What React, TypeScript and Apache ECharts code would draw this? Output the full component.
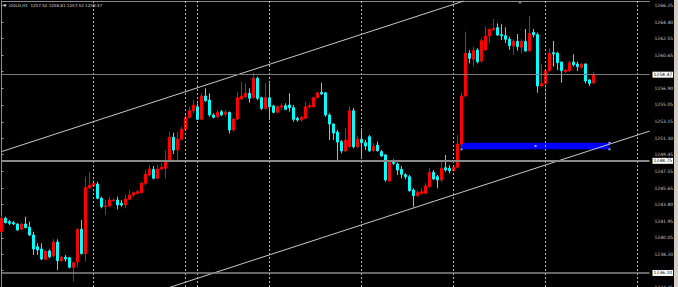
import React, { useEffect, useRef } from "react";
import * as echarts from "echarts";

// ---- DATA ----
const opens = [
  1240.75, 1242.27, 1241.88, 1241.77, 1241.62, 1241.03, 1241.62, 1241.25, 1240.38, 1239.06,
  1238.80, 1237.64, 1238.58, 1238.01, 1239.59, 1237.48, 1237.87, 1237.82, 1236.74, 1237.34,
  1241.03, 1238.27, 1245.68, 1245.91, 1246.13, 1244.52, 1243.57, 1243.65, 1244.25, 1244.33,
  1243.96, 1243.77, 1244.41, 1244.89, 1245.08, 1245.15, 1246.21, 1247.15, 1247.79, 1246.78,
  1247.83, 1247.91, 1248.84, 1251.40, 1249.97, 1251.18, 1252.30, 1253.66, 1254.40, 1254.85,
  1253.43, 1256.06, 1255.61, 1253.92, 1253.73, 1254.29, 1254.00, 1254.22, 1252.23, 1253.47,
  1255.72, 1255.98, 1256.37, 1255.87, 1258.06, 1255.87, 1254.67, 1255.87, 1254.93, 1254.22,
  1254.79, 1254.97, 1255.05, 1254.74, 1253.54, 1253.35, 1253.54, 1254.82, 1254.85, 1255.87,
  1256.48, 1256.43, 1253.92, 1252.90, 1251.99, 1250.91, 1249.86, 1250.34, 1254.40, 1250.34,
  1251.18, 1250.79, 1251.47, 1249.89, 1250.53, 1249.78, 1249.41, 1246.47, 1248.76, 1248.39,
  1247.79, 1247.19, 1246.96, 1245.46, 1244.81, 1245.08, 1245.08, 1245.83, 1247.45, 1246.96,
  1246.59, 1247.97, 1247.91, 1247.63, 1248.02, 1250.65, 1256.06, 1260.88, 1260.20, 1261.25,
  1260.01, 1261.25, 1262.83, 1263.51, 1263.77, 1262.98, 1262.86, 1262.46, 1261.70, 1262.23,
  1261.55, 1262.23, 1261.14, 1263.24, 1262.98, 1257.19, 1257.49, 1258.92, 1260.95, 1260.88,
  1259.90, 1258.80, 1258.92, 1259.90, 1259.67, 1259.26, 1259.67, 1257.87, 1257.52,
];
const highs = [
  1242.52, 1242.45, 1242.07, 1241.96, 1241.70, 1241.70, 1242.45, 1241.88, 1240.75, 1239.45,
  1239.45, 1238.69, 1238.77, 1239.90, 1239.90, 1238.01, 1238.13, 1237.93, 1237.37, 1241.14,
  1242.07, 1246.96, 1247.52, 1246.59, 1246.39, 1244.70, 1244.33, 1244.70, 1244.52, 1244.70,
  1244.33, 1244.89, 1245.46, 1245.27, 1245.46, 1246.39, 1247.71, 1248.28, 1248.17, 1248.28,
  1248.47, 1249.97, 1252.03, 1251.92, 1252.03, 1252.60, 1253.92, 1254.85, 1255.61, 1255.24,
  1256.37, 1256.93, 1256.37, 1254.11, 1254.48, 1254.48, 1254.48, 1254.29, 1253.54, 1256.55,
  1257.67, 1257.49, 1256.93, 1258.69, 1258.24, 1255.98, 1257.49, 1257.49, 1255.05, 1254.99,
  1255.24, 1255.24, 1256.37, 1255.05, 1253.73, 1253.80, 1255.42, 1255.24, 1255.98, 1256.48,
  1257.56, 1256.43, 1254.11, 1252.98, 1252.23, 1251.10, 1252.45, 1254.93, 1254.71, 1251.55,
  1252.42, 1251.10, 1251.66, 1250.72, 1250.91, 1249.97, 1249.52, 1248.84, 1248.92, 1248.54,
  1248.17, 1247.34, 1247.15, 1245.65, 1245.38, 1245.65, 1246.21, 1247.91, 1247.71, 1247.15,
  1248.84, 1249.41, 1248.28, 1248.17, 1251.66, 1256.43, 1263.31, 1261.25, 1261.62, 1261.44,
  1262.57, 1263.88, 1263.70, 1264.75, 1264.26, 1264.18, 1263.81, 1262.75, 1262.46, 1263.05,
  1262.46, 1263.62, 1265.09, 1263.62, 1263.20, 1259.64, 1258.92, 1261.44, 1262.27, 1261.06,
  1259.93, 1259.07, 1260.04, 1260.77, 1259.93, 1259.75, 1259.75, 1257.95, 1258.81,
];
const lows = [
  1240.61, 1241.68, 1241.51, 1241.51, 1240.87, 1240.95, 1241.14, 1240.27, 1238.13, 1238.13,
  1237.56, 1237.56, 1237.75, 1237.87, 1236.43, 1237.37, 1237.37, 1236.62, 1235.11, 1236.74,
  1238.20, 1237.37, 1245.65, 1245.83, 1244.41, 1243.39, 1242.64, 1243.57, 1244.14, 1243.28,
  1243.57, 1243.39, 1244.33, 1244.70, 1244.95, 1245.08, 1246.02, 1246.96, 1246.67, 1246.67,
  1247.71, 1246.78, 1248.76, 1249.52, 1248.84, 1251.10, 1252.23, 1253.54, 1254.11, 1253.35,
  1253.35, 1255.42, 1253.73, 1253.54, 1253.54, 1253.80, 1253.73, 1251.85, 1252.03, 1253.35,
  1255.61, 1255.80, 1255.31, 1255.80, 1255.61, 1254.48, 1254.48, 1253.35, 1254.11, 1254.11,
  1254.48, 1254.48, 1254.29, 1253.16, 1253.16, 1253.16, 1253.54, 1254.67, 1254.85, 1255.80,
  1256.17, 1253.73, 1251.10, 1251.10, 1248.84, 1249.60, 1249.74, 1250.19, 1250.16, 1250.19,
  1249.22, 1249.97, 1249.78, 1249.78, 1249.78, 1249.22, 1246.39, 1246.39, 1248.28, 1247.15,
  1246.78, 1246.67, 1245.27, 1243.57, 1244.70, 1244.89, 1245.00, 1245.76, 1246.59, 1245.65,
  1246.39, 1247.52, 1247.34, 1247.52, 1247.91, 1250.31, 1255.95, 1259.75, 1259.37, 1259.75,
  1259.82, 1261.17, 1262.01, 1263.43, 1262.83, 1262.38, 1262.07, 1261.25, 1260.69, 1261.17,
  1260.88, 1261.06, 1261.14, 1262.68, 1256.43, 1257.11, 1254.29, 1258.80, 1259.37, 1258.99,
  1257.56, 1258.69, 1258.80, 1259.37, 1258.88, 1259.18, 1257.49, 1257.19, 1257.52,
];
const closes = [
  1242.27, 1241.77, 1241.70, 1241.62, 1240.95, 1241.62, 1241.21, 1240.38, 1238.80, 1238.69,
  1237.67, 1238.58, 1237.93, 1239.59, 1237.48, 1237.87, 1237.67, 1236.74, 1237.26, 1241.03,
  1238.27, 1245.72, 1245.99, 1246.21, 1244.52, 1243.57, 1243.65, 1244.33, 1244.33, 1243.77,
  1243.77, 1244.44, 1244.89, 1245.15, 1245.27, 1246.21, 1247.26, 1247.83, 1246.78, 1247.83,
  1248.02, 1248.84, 1251.40, 1249.97, 1251.21, 1252.30, 1253.66, 1254.40, 1255.05, 1253.43,
  1256.06, 1255.53, 1253.92, 1253.66, 1254.22, 1253.92, 1254.22, 1252.23, 1253.47, 1255.87,
  1256.06, 1256.40, 1255.80, 1258.06, 1255.80, 1254.67, 1255.87, 1254.85, 1254.22, 1254.85,
  1254.97, 1254.56, 1254.74, 1253.43, 1253.35, 1253.66, 1254.85, 1254.97, 1255.87, 1256.43,
  1256.29, 1253.92, 1252.90, 1251.89, 1250.87, 1249.86, 1251.10, 1254.40, 1250.34, 1251.18,
  1250.79, 1250.42, 1249.86, 1250.42, 1249.89, 1249.29, 1246.59, 1248.65, 1248.47, 1247.71,
  1247.23, 1246.96, 1245.38, 1244.81, 1245.20, 1245.27, 1245.91, 1247.45, 1246.70, 1246.59,
  1247.91, 1247.71, 1247.63, 1248.02, 1250.65, 1256.06, 1260.88, 1260.31, 1261.17, 1259.93,
  1262.30, 1262.83, 1263.58, 1263.70, 1262.94, 1262.86, 1262.46, 1261.74, 1262.23, 1261.62,
  1262.23, 1261.14, 1263.13, 1262.98, 1257.19, 1257.49, 1258.92, 1260.88, 1260.80, 1259.82,
  1258.92, 1258.99, 1259.82, 1259.59, 1259.37, 1259.67, 1257.75, 1257.49, 1258.47,
];
const barCount = 163;
const categories = Array.from({ length: barCount }, (_, i) => String(i));
const separatorBars = [23, 46, 49, 67, 90, 113, 136, 159];
const priceTicks = [
  1266.25, 1264.4, 1262.55, 1260.65, 1258.8, 1256.9, 1255.05, 1253.15, 1251.3,
  1249.45, 1247.55, 1245.65, 1243.8, 1241.95, 1240.05, 1238.2, 1236.35, 1234.45,
];
// labels hidden behind the price boxes (1258.80, 1236.35) are left out
const priceLabels = [
  1266.25, 1264.4, 1262.55, 1260.65, 1256.9, 1255.05, 1253.15, 1251.3,
  1249.45, 1247.55, 1245.65, 1243.8, 1241.95, 1240.05, 1238.2, 1234.45,
];
const priceMin = 1232.26;
const priceMax = 1266.78;
const levelLines = [1258.47, 1248.75, 1236.1];
const channelUpper = [[0, 1249.79], [115.6, 1266.78]];
const channelLower = [[0, 1228.3], [162, 1252.1]];
const zoneBars = [115, 152];
const zonePrices = [1250.79, 1250.05];
const titleText = "GOLD,H1  1257.52 1258.81 1257.52 1258.47";

const FONT = "DejaVu Sans";

export default function App() {
  const ref = useRef<HTMLDivElement>(null);
  useEffect(() => {
    document.body.style.margin = "0";
    const chart = echarts.init(ref.current!, undefined, { renderer: "svg" });
    const levelStyles = [
      { color: "#7a7a7a", width: 1 },
      { color: "#8a8a8a", width: 2 },
      { color: "#8a8a8a", width: 1.5 },
    ];
    const option: any = {
      animation: false,
      backgroundColor: "#000000",
      title: {
        text: titleText,
        left: 9,
        top: 3.7,
        padding: 0,
        textStyle: { color: "#d8d8d8", fontSize: 4.1, fontWeight: "normal", fontFamily: FONT },
      },
      grid: {
        left: 1.5,
        right: 28.5,
        top: 1,
        bottom: -20,
        outerBoundsMode: "none",
        containLabel: false,
      },
      xAxis: [
        {
          type: "category",
          data: categories,
          boundaryGap: false,
          position: "top",
          axisLine: { show: true, onZero: false, lineStyle: { color: "#8a8a8a", width: 1 } },
          axisTick: { show: false },
          axisLabel: { show: false },
          splitLine: { show: false },
        },
        { type: "value", min: 0, max: barCount - 1, show: false },
      ],
      yAxis: [
        {
          type: "value",
          position: "right",
          offset: 2,
          min: priceMin,
          max: priceMax,
          axisLine: { show: true, lineStyle: { color: "#a0a0a0", width: 1 } },
          axisTick: { show: true, length: 2, customValues: priceTicks, lineStyle: { color: "#a0a0a0" } },
          axisLabel: {
            show: true,
            customValues: priceLabels,
            formatter: (v: number) => v.toFixed(2),
            color: "#c8c8c8",
            fontSize: 4.5,
            fontFamily: FONT,
            margin: 3,
          },
          splitLine: { show: false },
        },
        {
          type: "value",
          position: "left",
          min: priceMin,
          max: priceMax,
          axisLine: { show: true, lineStyle: { color: "#8a8a8a", width: 1 } },
          axisTick: { show: false },
          axisLabel: { show: false },
          splitLine: { show: false },
        },
      ],
      graphic: [
        { type: "rect", shape: { x: 674, y: 0, width: 4, height: 287 }, style: { fill: "#d4d0c8" } },
        { type: "polygon", shape: { points: [[3, 4.5], [7, 4.5], [5, 7]] }, style: { fill: "#d8d8d8" } },
        { type: "polygon", shape: { points: [[517.5, 1], [522.5, 1], [520, 4]] }, style: { fill: "#8898a8" } },
      ],
      series: [
        {
          type: "candlestick",
          xAxisIndex: 0,
          yAxisIndex: 0,
          barWidth: 2,
          data: opens.map((o, i) => [o, closes[i], lows[i], highs[i]]),
          itemStyle: {
            color: "#ff0000",
            color0: "#00ffff",
            borderColor: "#ff0000",
            borderColor0: "#00ffff",
            borderWidth: 1,
          },
          markLine: {
            silent: true,
            symbol: ["none", "none"],
            animation: false,
            data: [
              ...separatorBars.map((b) => ({
                xAxis: b,
                lineStyle: { color: "#b4b4b4", type: [2, 2], width: 1 },
                label: { show: false },
              })),
              ...levelLines.map((v, i) => ({
                yAxis: v,
                lineStyle: { ...levelStyles[i], type: "solid" },
                label: {
                  show: true,
                  position: "end",
                  distance: 3,
                  formatter: () => v.toFixed(2),
                  color: "#000000",
                  backgroundColor: "#ffffff",
                  padding: [0.5, 1],
                  fontSize: 4.5,
                  fontFamily: FONT,
                },
              })),
            ],
          },
          markArea: {
            silent: true,
            itemStyle: { color: "#0000ff", opacity: 1 },
            data: [[
              { xAxis: zoneBars[0], yAxis: zonePrices[0] },
              { xAxis: zoneBars[1], yAxis: zonePrices[1] },
            ]],
          },
        },
        {
          type: "line",
          xAxisIndex: 1,
          yAxisIndex: 0,
          data: channelUpper,
          symbol: "none",
          silent: true,
          clip: true,
          lineStyle: { color: "#c8c8c8", width: 1 },
        },
        {
          type: "line",
          xAxisIndex: 1,
          yAxisIndex: 0,
          data: channelLower,
          symbol: "none",
          silent: true,
          clip: true,
          lineStyle: { color: "#c8c8c8", width: 1 },
        },
        {
          type: "scatter",
          xAxisIndex: 1,
          yAxisIndex: 0,
          silent: true,
          symbol: "rect",
          symbolSize: 2,
          itemStyle: { color: "#d0d0ff" },
          data: [
            [zoneBars[0], zonePrices[1]],
            [(zoneBars[0] + zoneBars[1]) / 2, (zonePrices[0] + zonePrices[1]) / 2],
            [zoneBars[1], zonePrices[0]],
            [zoneBars[1], zonePrices[1]],
          ],
        },
      ],
    };
    chart.setOption(option);
    return () => chart.dispose();
  }, []);
  return (
    <div
      ref={ref}
      style={{ position: "fixed", left: 0, top: 0, width: 678, height: 287 }}
    />
  );
}
